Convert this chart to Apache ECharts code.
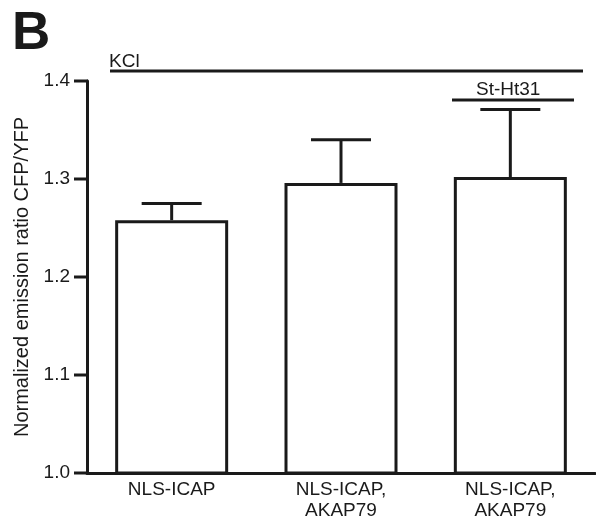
<html>
<head>
<meta charset="UTF-8" />
<title></title>
<script src="https://cdn.jsdelivr.net/npm/echarts@6/dist/echarts.min.js"></script>
<style type="text/css">
html,body{margin:0;padding:0;background:#fff;}
#main{width:596px;height:521px;}
</style>
</head>
<body>
<div id="main"></div>
<script type="text/javascript">
// data
var categories = ['NLS-ICAP', 'NLS-ICAP,\nAKAP79', 'NLS-ICAP,\nAKAP79'];
var means = [1.258, 1.296, 1.302];
var errs = [0.017, 0.044, 0.069];
var yTicks = [1.0, 1.1, 1.2, 1.3, 1.4];

var ink = '#1a1a1a';
var font = 'Liberation Sans, Arial, sans-serif';

var errData = [];
for (var i = 0; i < means.length; i++) {
   errData.push([i, means[i], means[i] + errs[i]]);
}

var myChart = echarts.init(document.getElementById('main'));

myChart.setOption({
   animation: false,
   title: {
      text: 'B',
      left: 7,
      top: 3,
      textStyle: {fontSize: 53, fontWeight: 'bold', color: ink, fontFamily: font}
   },
   grid: {left: 87, right: 1, top: 81, bottom: 47},
   xAxis: {
      type: 'category',
      data: categories,
      axisLine: {lineStyle: {color: ink, width: 3}},
      axisTick: {show: false},
      axisLabel: {color: ink, fontSize: 19, fontFamily: font, margin: 6, lineHeight: 21}
   },
   yAxis: {
      type: 'value',
      min: yTicks[0],
      max: yTicks[yTicks.length - 1],
      interval: 0.1,
      name: 'Normalized emission ratio CFP/YFP',
      nameLocation: 'middle',
      nameGap: 55,
      nameTextStyle: {color: ink, fontSize: 20, fontFamily: font},
      axisLine: {show: true, lineStyle: {color: ink, width: 3}},
      axisTick: {show: false},
      axisLabel: {color: ink, fontSize: 19, fontFamily: font, margin: 17,
         formatter: function (v) { return v.toFixed(1); }},
      splitLine: {show: false}
   },
   series: [{
      type: 'bar',
      data: means,
      barWidth: 113,
      itemStyle: {color: '#fff', borderColor: ink, borderWidth: 3}
   }, {
      type: 'custom',
      data: errData,
      z: 3,
      renderItem: function (params, api) {
         var x = api.value(0);
         var lo = api.coord([x, api.value(1)]);
         var hi = api.coord([x, api.value(2)]);
         var half = 30;
         var st = {stroke: ink, lineWidth: 3};
         return {
            type: 'group',
            children: [
               {type: 'line', shape: {x1: lo[0], y1: lo[1], x2: hi[0], y2: hi[1]}, style: st},
               {type: 'line', shape: {x1: hi[0] - half, y1: hi[1], x2: hi[0] + half, y2: hi[1]}, style: st}
            ]
         };
      }
   }]
});

// annotation bars (KCl / St-Ht31)
var gr = [
   {type: 'text', left: 109, top: 52, style: {text: 'KCl', fill: ink, font: '19px ' + font}},
   {type: 'line', shape: {x1: 110, y1: 71, x2: 583, y2: 71}, style: {stroke: ink, lineWidth: 3}},
   {type: 'text', left: 476, top: 80, style: {text: 'St-Ht31', fill: ink, font: '19px ' + font}},
   {type: 'line', shape: {x1: 452, y1: 100, x2: 574, y2: 100}, style: {stroke: ink, lineWidth: 3}}
];
// y axis ticks outside the axis line, placed from the axis scale (filled rects)
for (var j = 0; j < yTicks.length; j++) {
   var p = myChart.convertToPixel({gridIndex: 0}, [0, yTicks[j]]);
   gr.push({type: 'rect', z: 50,
      shape: {x: 74, y: p[1] - 1.5, width: 14, height: 3},
      style: {fill: ink}});
}
myChart.setOption({graphic: gr});
</script>
</body>
</html>
